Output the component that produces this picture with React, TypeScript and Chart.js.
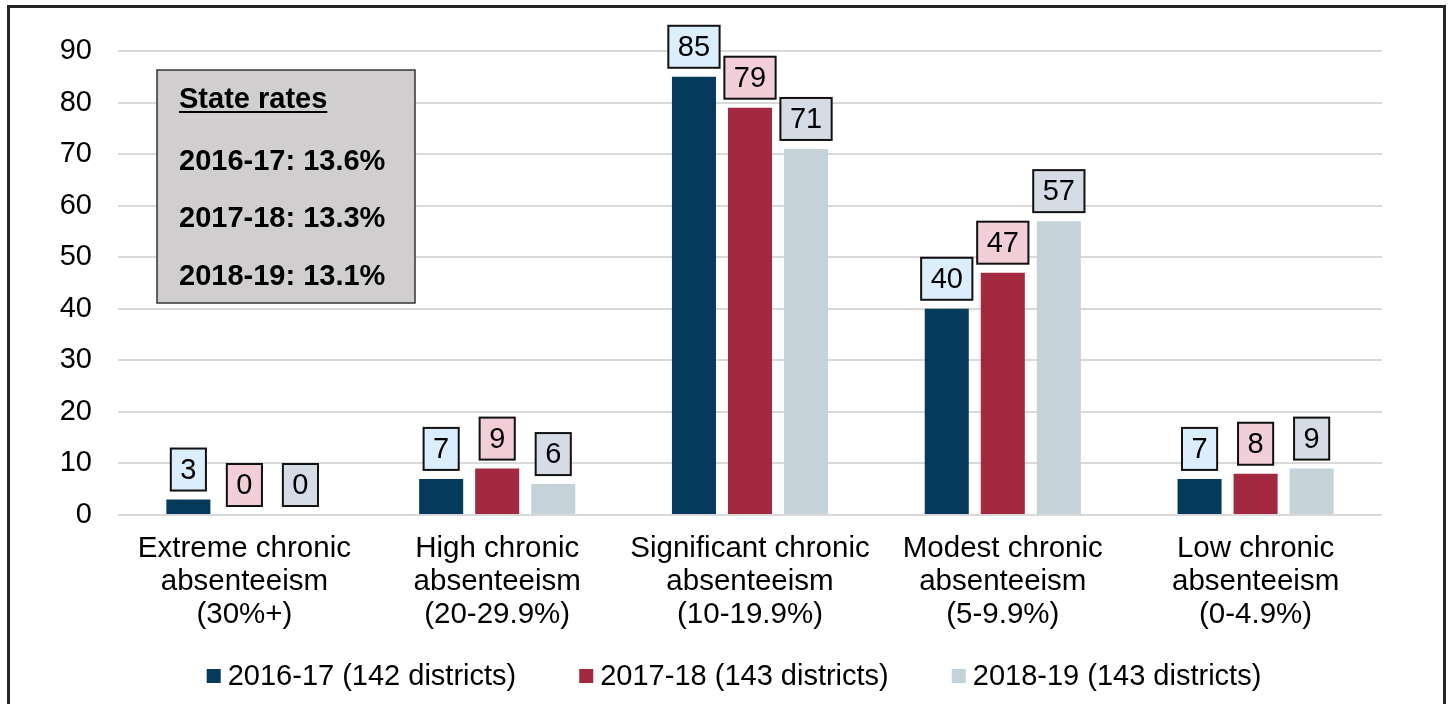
import React, { useEffect, useRef } from "react";
import { Chart, registerables } from "chart.js";

Chart.register(...registerables);

const categories: string[][] = [
  ["Extreme chronic", "absenteeism", "(30%+)"],
  ["High chronic", "absenteeism", "(20-29.9%)"],
  ["Significant chronic", "absenteeism", "(10-19.9%)"],
  ["Modest chronic", "absenteeism", "(5-9.9%)"],
  ["Low chronic", "absenteeism", "(0-4.9%)"],
];

const seriesLabels = [
  "2016-17 (142 districts)",
  "2017-18 (143 districts)",
  "2018-19 (143 districts)",
];

const values2016 = [3, 7, 85, 40, 7];
const values2017 = [0, 9, 79, 47, 8];
const values2018 = [0, 6, 71, 57, 9];

const yTicks = { min: 0, max: 90, step: 10 };

const stateRatesTitle = "State rates";
const stateRates = ["2016-17: 13.6%", "2017-18: 13.3%", "2018-19: 13.1%"];

const barColors = ["#053a5c", "#a32941", "#c5d2da"];
const labelFills = ["#daeefd", "#f2cfd8", "#d6dce5"];

const FONT = '"Liberation Sans", Arial, sans-serif';

const framePlugin = {
  id: "frame",
  beforeDraw(chart: any) {
    const ctx = chart.ctx;
    ctx.save();
    ctx.fillStyle = "#ffffff";
    ctx.fillRect(0, 0, chart.width, chart.height);
    ctx.strokeStyle = "#262626";
    ctx.lineWidth = 3;
    ctx.beginPath();
    ctx.moveTo(8.5, chart.height + 5);
    ctx.lineTo(8.5, 6.5);
    ctx.lineTo(1444.5, 6.5);
    ctx.lineTo(1444.5, chart.height + 5);
    ctx.stroke();
    ctx.restore();
  },
};

const dataLabelPlugin = {
  id: "boxLabels",
  afterDatasetsDraw(chart: any) {
    const ctx = chart.ctx;
    ctx.save();
    ctx.font = `29px ${FONT}`;
    ctx.textAlign = "center";
    ctx.textBaseline = "middle";
    chart.data.datasets.forEach((ds: any, di: number) => {
      const meta = chart.getDatasetMeta(di);
      meta.data.forEach((el: any, i: number) => {
        const txt = String(ds.data[i]);
        const w = ctx.measureText(txt).width + 19;
        const h = 42;
        const bottom = el.y - 9;
        const x0 = el.x - w / 2;
        const y0 = bottom - h;
        ctx.fillStyle = labelFills[di];
        ctx.fillRect(x0, y0, w, h);
        ctx.strokeStyle = "#111111";
        ctx.lineWidth = 2;
        ctx.strokeRect(x0, y0, w, h);
        ctx.fillStyle = "#000000";
        ctx.fillText(txt, el.x, y0 + h / 2 + 1);
      });
    });
    ctx.restore();
  },
};

const stateBoxPlugin = {
  id: "stateBox",
  afterDraw(chart: any) {
    const ctx = chart.ctx;
    const a = chart.chartArea;
    const x0 = a.left + 39;
    const y0 = a.top + 19;
    const w = 258;
    const h = 233;
    ctx.save();
    ctx.fillStyle = "#d0cece";
    ctx.fillRect(x0, y0, w, h);
    ctx.strokeStyle = "#333333";
    ctx.lineWidth = 1.5;
    ctx.strokeRect(x0, y0, w, h);
    ctx.fillStyle = "#000000";
    ctx.font = `bold 29px ${FONT}`;
    ctx.textAlign = "left";
    ctx.textBaseline = "middle";
    const tx = x0 + 22;
    const ty = y0 + 30;
    ctx.fillText(stateRatesTitle, tx, ty);
    const tw = ctx.measureText(stateRatesTitle).width;
    ctx.fillRect(tx, ty + 11, tw, 2);
    const lineYs = [y0 + 92, y0 + 149, y0 + 207];
    stateRates.forEach((t, i) => ctx.fillText(t, tx, lineYs[i]));
    ctx.restore();
  },
};

const legendPlugin = {
  id: "customLegend",
  afterDraw(chart: any) {
    const ctx = chart.ctx;
    ctx.save();
    ctx.font = `29px ${FONT}`;
    ctx.textBaseline = "middle";
    ctx.textAlign = "left";
    const box = 14;
    const gapBox = 7;
    const gapItem = 63;
    const items = chart.data.datasets.map((ds: any) => ({
      label: ds.label,
      color: ds.backgroundColor,
      w: box + gapBox + ctx.measureText(ds.label).width,
    }));
    const total =
      items.reduce((s: number, it: any) => s + it.w, 0) + gapItem * (items.length - 1);
    let x = 734 - total / 2;
    const y = 676;
    items.forEach((it: any) => {
      ctx.fillStyle = it.color;
      ctx.fillRect(x, y - box / 2, box, box);
      ctx.fillStyle = "#000000";
      ctx.fillText(it.label, x + box + gapBox, y + 1);
      x += it.w + gapItem;
    });
    ctx.restore();
  },
};

export default function App() {
  const ref = useRef<HTMLCanvasElement | null>(null);

  useEffect(() => {
    if (!ref.current) return;
    const chart = new Chart(ref.current, {
      type: "bar",
      data: {
        labels: categories,
        datasets: [
          { label: seriesLabels[0], data: values2016, backgroundColor: barColors[0] },
          { label: seriesLabels[1], data: values2017, backgroundColor: barColors[1] },
          { label: seriesLabels[2], data: values2018, backgroundColor: barColors[2] },
        ],
      },
      options: {
        responsive: false,
        animation: false,
        maintainAspectRatio: false,
        datasets: {
          bar: { categoryPercentage: 0.665, barPercentage: 0.786 },
        },
        layout: { padding: { left: 20, right: 66, top: 51, bottom: 69 } },
        plugins: {
          legend: { display: false },
          tooltip: { enabled: false },
          title: { display: false },
        },
        scales: {
          x: {
            grid: { display: false, drawTicks: false },
            border: { display: false },
            ticks: {
              color: "#000000",
              padding: 17,
              maxRotation: 0,
              autoSkip: false,
              font: { family: FONT, size: 29.5, lineHeight: "33px" },
            },
            afterFit(scale: any) {
              scale.height = 120;
            },
          },
          y: {
            min: yTicks.min,
            max: yTicks.max,
            grid: { color: "#d9d9d9", lineWidth: 2, drawTicks: false },
            border: { display: false },
            ticks: {
              stepSize: yTicks.step,
              color: "#000000",
              padding: 26,
              font: { family: FONT, size: 29 },
            },
            afterFit(scale: any) {
              scale.width = 98;
            },
          },
        },
      },
      plugins: [framePlugin, dataLabelPlugin, stateBoxPlugin, legendPlugin],
    });
    return () => chart.destroy();
  }, []);

  return (
    <div style={{ position: "fixed", left: 0, top: 0, width: 1448, height: 704 }}>
      <canvas ref={ref} width={1448} height={704} style={{ display: "block" }} />
    </div>
  );
}
